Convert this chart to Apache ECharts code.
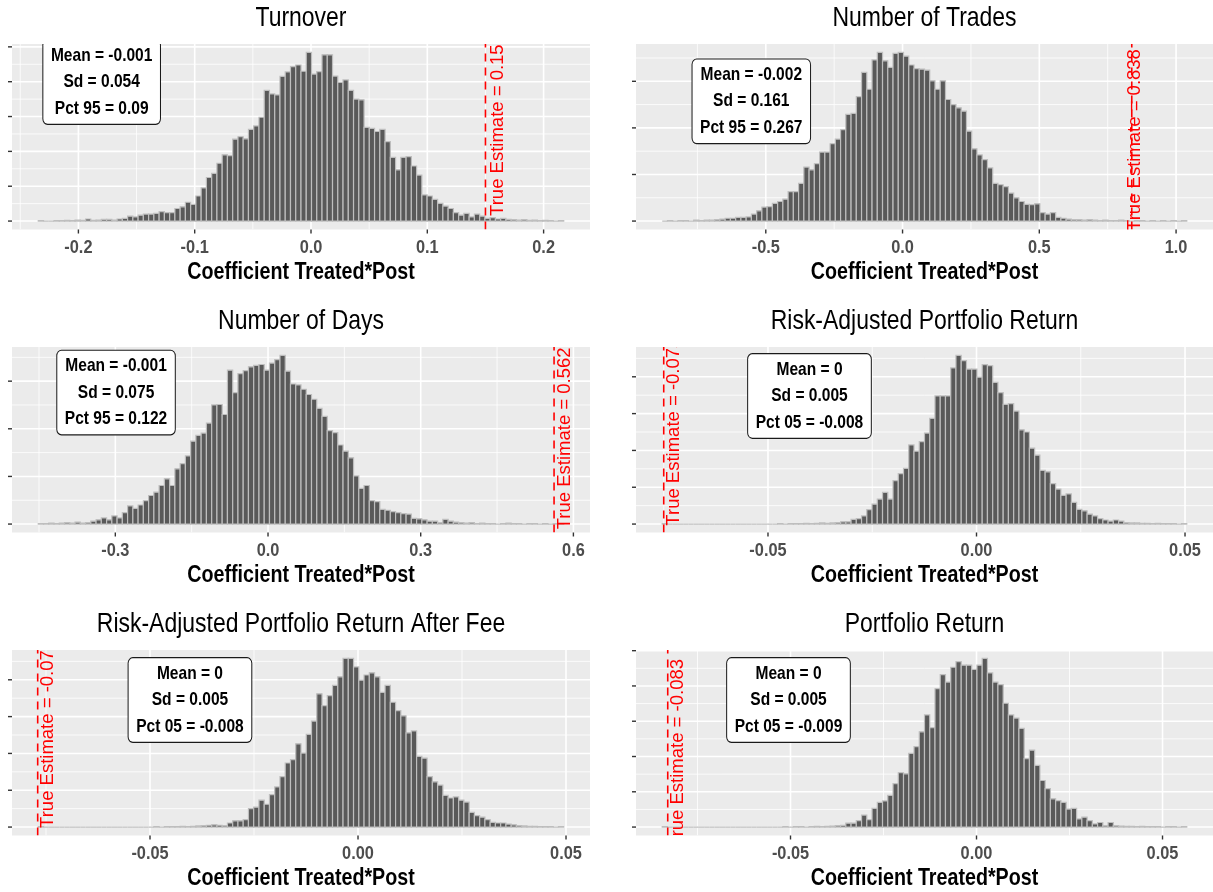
<!DOCTYPE html>
<html>
<head>
<meta charset="utf-8">
<script src="https://cdn.jsdelivr.net/npm/echarts@6/dist/echarts.min.js"></script>
<style>
  html, body { margin: 0; padding: 0; background: #ffffff; }
  #chart { width: 1213px; height: 892px; }
</style>
</head>
<body>
<div id="chart"></div>
<script>
// ---------------- data ----------------
const panelTitles = [
  'Turnover',
  'Number of Trades',
  'Number of Days',
  'Risk-Adjusted Portfolio Return',
  'Risk-Adjusted Portfolio Return After Fee',
  'Portfolio Return'
];
const axisTitle = 'Coefficient Treated*Post';

// histogram bins: left edge of the first bin and bin width (100 bins each)
const binStart = [-0.2345, -0.8786, -0.4514, -0.07536, -0.07686, -0.08448];
const binWidth = [0.004518, 0.019177, 0.010324, 0.0012578, 0.0012631, 0.00141];

const countsTurnover = [
  1, 0, 0, 1, 1, 2, 1, 3, 2, 6, 2, 3,
  5, 5, 3, 6, 8, 14, 12, 17, 20, 20, 22, 27,
  24, 24, 36, 41, 54, 48, 72, 95, 125, 137, 166, 190,
  188, 235, 242, 236, 263, 273, 298, 375, 365, 362, 415, 428,
  443, 448, 430, 484, 422, 429, 477, 477, 416, 398, 405, 375,
  350, 348, 269, 266, 257, 263, 228, 183, 147, 183, 185, 158,
  132, 75, 72, 62, 51, 43, 36, 24, 17, 22, 12, 20,
  14, 8, 10, 6, 8, 5, 4, 3, 4, 2, 3, 1,
  2, 1, 0, 1
];
const countsTrades = [
  0, 1, 0, 1, 1, 0, 2, 1, 2, 2, 3,
  4, 6, 6, 8, 8, 9,
  15, 22, 30, 31, 38, 42, 47,
  63, 63, 81, 116, 110, 123, 148, 148, 166, 176, 196, 229, 231, 267,
  319, 283, 346, 362, 344, 330, 360, 362, 354, 335,
  327, 326, 324, 301, 283, 301, 261, 250, 243, 236,
  193, 155, 142, 132, 114, 81, 78, 74, 60, 50, 42, 36,
  35, 37, 18, 15, 18, 8, 6, 4, 3, 3,
  2, 3, 2, 1, 2, 1, 1, 2, 1, 0, 1, 1, 0, 1, 0, 1, 0, 1, 0, 1
];
const countsDays = [
  1, 1, 2, 1, 2, 3, 2, 4, 2, 3, 6, 9, 13, 9, 17, 13,
  24, 38, 33, 40, 49, 60, 67, 81, 95, 81, 116, 127, 143, 174, 186, 191, 212, 250, 251, 230,
  323, 276, 316, 322, 330, 333, 335, 323, 338, 345, 354, 321, 294, 292,
  283, 272, 262, 243, 226, 196, 192, 166, 153, 139, 101, 75, 81, 49, 47, 31, 29, 26, 24, 22,
  21, 12, 11, 9, 6, 6, 3, 10, 6, 4, 3, 2, 3,
  1, 2, 1, 1, 0, 1, 2, 1, 1, 0, 1, 1, 0, 1, 0, 1, 1
];
const countsRiskAdj = [
  1, 0, 0, 0, 0, 0, 0, 0, 0, 0, 0, 0, 0, 0, 0, 0, 0, 0, 0, 0,
  0, 0, 1, 0, 1, 1, 1, 2, 1, 2, 3, 2, 3, 4,
  6, 6, 13, 15, 22, 39, 54, 68, 86, 68, 118, 137,
  151, 215, 198, 224, 247, 287, 348, 348, 348, 424, 458, 444,
  421, 421, 399, 433, 430, 385, 357, 325, 327, 307, 256, 250,
  206, 187, 146, 142, 110, 95, 78, 82, 59, 40, 36, 27,
  22, 15, 11, 8, 11, 8, 4, 3, 3, 2, 2, 1, 2, 1, 1, 1, 0, 1
];
const countsRiskAdjFee = [
  1, 0, 0, 0, 0, 0, 0, 0, 0, 0, 0, 0, 0, 0, 0, 0, 0, 0, 0, 0, 0, 0, 1, 0, 1,
  1, 1, 2, 1, 2,
  3, 4, 5, 6, 5, 4, 11, 17, 17, 20,
  50, 54, 73, 62, 88, 109, 137, 174, 183, 226, 201, 252, 288,
  362, 330, 357, 385, 408, 458, 458, 435, 399, 413, 419, 408,
  366, 385, 339, 316, 302, 256, 261, 192, 187, 137, 123, 114,
  86, 79, 82, 73, 68, 40, 31, 27, 20, 13, 11, 11, 8, 6, 4,
  3, 2, 2, 1, 1, 1, 0, 1
];
const countsReturn = [
  1, 0, 0, 0, 0, 0, 0, 0, 0, 0, 0, 0, 0, 0, 0, 0, 0, 0, 0, 0,
  0, 0, 0, 1, 0, 1, 1, 0, 1, 2, 1, 2,
  3, 4, 5,
  11, 11, 18, 34, 21, 53, 70, 74, 90, 123, 154, 151, 209,
  228, 270, 318, 282, 392, 432, 411, 453, 469, 459, 459, 447, 459, 478,
  437, 411, 404, 351, 318, 309, 280, 194, 218, 175, 132, 109, 80,
  75, 70, 51, 53, 23, 28, 18, 9, 13, 4, 13, 4,
  3, 2, 2, 1, 2, 1, 1, 1, 0, 1, 1, 0, 1
];
const panelCounts = [countsTurnover, countsTrades, countsDays, countsRiskAdj, countsRiskAdjFee, countsReturn];

const trueEstimate = [0.15, 0.838, 0.562, -0.075, -0.077, -0.083];
const trueEstimateText = [
  'True Estimate = 0.15',
  'True Estimate = 0.838',
  'True Estimate = 0.562',
  'True Estimate = -0.075',
  'True Estimate = -0.077',
  'True Estimate = -0.083'
];
// [x, y] of the rotated estimate label (data units)
const trueLabelPos = [[0.1604, 261], [0.850, 174], [0.5825, 180], [-0.07266, 251], [-0.07452, 253], [-0.08024, 210]];

const statText = [
  ['Mean = -0.001', 'Sd = 0.054', 'Pct 95 = 0.09'],
  ['Mean = -0.002', 'Sd = 0.161', 'Pct 95 = 0.267'],
  ['Mean = -0.001', 'Sd = 0.075', 'Pct 95 = 0.122'],
  ['Mean = 0', 'Sd = 0.005', 'Pct 05 = -0.008'],
  ['Mean = 0', 'Sd = 0.005', 'Pct 05 = -0.008'],
  ['Mean = 0', 'Sd = 0.005', 'Pct 05 = -0.009']
];
// centre of the summary box (data units)
const statPos = [[-0.180, 399], [-0.553, 257], [-0.2986, 276], [-0.04005, 348], [-0.0404, 345], [-0.05054, 360]];

const xTickValues = [
  [-0.2, -0.1, 0, 0.1, 0.2],
  [-0.5, 0, 0.5, 1.0],
  [-0.3, 0, 0.3, 0.6],
  [-0.05, 0, 0.05],
  [-0.05, 0, 0.05],
  [-0.05, 0, 0.05]
];
const xTickLabels = [
  ['-0.2', '-0.1', '0.0', '0.1', '0.2'],
  ['-0.5', '0.0', '0.5', '1.0'],
  ['-0.3', '0.0', '0.3', '0.6'],
  ['-0.05', '0.00', '0.05'],
  ['-0.05', '0.00', '0.05'],
  ['-0.05', '0.00', '0.05']
];
const xMinorValues = [
  [-0.25, -0.15, -0.05, 0.05, 0.15],
  [-0.75, -0.25, 0.25, 0.75],
  [-0.45, -0.15, 0.15, 0.45],
  [-0.075, -0.025, 0.025],
  [-0.075, -0.025, 0.025],
  [-0.075, -0.025, 0.025]
];
const yTickValues = [
  [0, 100, 200, 300, 400, 500],
  [0, 100, 200, 300],
  [0, 100, 200, 300],
  [0, 100, 200, 300, 400],
  [0, 100, 200, 300, 400],
  [0, 100, 200, 300, 400, 500]
];

// ---------------- layout ----------------
const panelBoxes = [
  { left: 12,  top: 44,  width: 578, height: 185.5 },
  { left: 636, top: 44,  width: 577, height: 185.5 },
  { left: 12,  top: 347, width: 578, height: 185.5 },
  { left: 636, top: 347, width: 577, height: 185.5 },
  { left: 12,  top: 650, width: 578, height: 185.5 },
  { left: 636, top: 650, width: 577, height: 185.5 }
];
// the plotting font is condensed: Liberation Sans squeezed horizontally
const FONT = "'Liberation Sans', Arial, sans-serif";
const SQUEEZE = 0.82;
const TICK_COLOR = '#333333';

function centeredText(text, x, y, size, weight, color, squeeze) {
  return {
    type: 'text', x: x, y: y, scaleX: squeeze, silent: true,
    style: {
      text: text, fill: color, fontSize: size, fontWeight: weight, fontFamily: FONT,
      align: 'center', verticalAlign: 'middle', textAlign: 'center', textVerticalAlign: 'middle'
    }
  };
}

const option = {
  animation: false,
  backgroundColor: '#ffffff',
  grid: [], xAxis: [], yAxis: [], series: [],
  graphic: { elements: [] }
};

panelTitles.forEach((t, k) => {
  const box = panelBoxes[k];
  const counts = panelCounts[k];
  const span = binWidth[k] * counts.length;
  const xMin = binStart[k] - 0.05 * span;
  const xMax = binStart[k] + 1.05 * span;
  const cMax = Math.max(...counts);
  const yMin = -0.05 * cMax;
  const yMax = 1.05 * cMax;
  const cx = box.left + box.width / 2;
  const bottom = box.top + box.height;

  // panel title and x-axis title
  option.graphic.elements.push(centeredText(t, cx, box.top - 26, 28, 'normal', '#000000', SQUEEZE));
  option.graphic.elements.push(centeredText(axisTitle, cx, bottom + 43, 24, 'bold', '#000000', SQUEEZE));

  option.grid.push({
    left: box.left, top: box.top, width: box.width, height: box.height,
    show: true, backgroundColor: '#EBEBEB', borderWidth: 0, containLabel: false
  });
  option.xAxis.push({
    gridIndex: k, type: 'value', min: xMin, max: xMax,
    axisLine: { show: false }, axisTick: { show: false }, axisLabel: { show: false }, splitLine: { show: false }
  });
  option.yAxis.push({
    gridIndex: k, type: 'value', min: yMin, max: yMax,
    axisLine: { show: false }, axisTick: { show: false }, axisLabel: { show: false }, splitLine: { show: false }
  });

  // white panel grid: vertical lines (major + minor)
  const vLines = xTickValues[k].map(v => [v, 1.6]).concat(xMinorValues[k].map(v => [v, 0.8]));
  option.series.push({
    type: 'custom', xAxisIndex: k, yAxisIndex: k, z: 1, silent: true, clip: true,
    data: vLines,
    renderItem: (params, api) => {
      const cs = params.coordSys;
      const x = api.coord([api.value(0), 0])[0];
      return { type: 'line', shape: { x1: x, y1: cs.y, x2: x, y2: cs.y + cs.height },
               style: { stroke: '#FFFFFF', lineWidth: api.value(1) } };
    }
  });
  // white panel grid: horizontal lines (major + minor)
  const yMinor = yTickValues[k].map(v => v + 50).filter(v => v < yMax);
  const hLines = yTickValues[k].map(v => [v, 1.6]).concat(yMinor.map(v => [v, 0.8]));
  option.series.push({
    type: 'custom', xAxisIndex: k, yAxisIndex: k, z: 1, silent: true, clip: true,
    data: hLines,
    encode: { x: 1, y: 0 },
    renderItem: (params, api) => {
      const cs = params.coordSys;
      const y = api.coord([xMin, api.value(0)])[1];
      return { type: 'line', shape: { x1: cs.x, y1: y, x2: cs.x + cs.width, y2: y },
               style: { stroke: '#FFFFFF', lineWidth: api.value(1) } };
    }
  });

  // x axis: tick marks below the panel and their labels
  option.series.push({
    type: 'custom', xAxisIndex: k, yAxisIndex: k, z: 3, silent: true, clip: false,
    data: xTickValues[k].map((v, i) => [v, i]),
    encode: { x: 0, y: 1 },
    renderItem: (params, api) => {
      const cs = params.coordSys;
      const x = api.coord([api.value(0), 0])[0];
      const yb = cs.y + cs.height;
      return { type: 'group', children: [
        { type: 'line', shape: { x1: x, y1: yb, x2: x, y2: yb + 4 },
          style: { stroke: TICK_COLOR, lineWidth: 1.4 } },
        centeredText(xTickLabels[k][api.value(1)], x, yb + 18.5, 19, 'bold', '#4D4D4D', 0.86)
      ] };
    }
  });
  // y axis: tick marks left of the panel (no labels)
  option.series.push({
    type: 'custom', xAxisIndex: k, yAxisIndex: k, z: 3, silent: true, clip: false,
    data: yTickValues[k].map(v => [v]),
    encode: { y: 0 },
    renderItem: (params, api) => {
      const cs = params.coordSys;
      const y = api.coord([xMin, api.value(0)])[1];
      return { type: 'line', shape: { x1: cs.x - 4, y1: y, x2: cs.x, y2: y },
               style: { stroke: TICK_COLOR, lineWidth: 1.4 } };
    }
  });

  // histogram bars
  const bins = counts.map((c, i) => [binStart[k] + i * binWidth[k], binStart[k] + (i + 1) * binWidth[k], c]);
  option.series.push({
    type: 'custom', xAxisIndex: k, yAxisIndex: k, z: 2, silent: true, clip: true,
    data: bins,
    encode: { x: [0, 1], y: 2 },
    renderItem: (params, api) => {
      const p0 = api.coord([api.value(0), 0]);
      const p1 = api.coord([api.value(1), api.value(2)]);
      return { type: 'rect',
               shape: { x: p0[0], y: p1[1], width: p1[0] - p0[0], height: p0[1] - p1[1] },
               style: { fill: '#595959', stroke: '#BEBEBE', lineWidth: 1.2 } };
    }
  });

  // dashed line at the true estimate
  option.series.push({
    type: 'custom', xAxisIndex: k, yAxisIndex: k, z: 3, silent: true, clip: true,
    data: [[trueEstimate[k], 0]],
    renderItem: (params, api) => {
      const cs = params.coordSys;
      const x = api.coord([api.value(0), 0])[0];
      return { type: 'line', shape: { x1: x, y1: cs.y + cs.height, x2: x, y2: cs.y },
               style: { stroke: '#FF0000', lineWidth: 1.6, lineDash: [8, 6] } };
    }
  });

  // rotated estimate label
  option.series.push({
    type: 'custom', xAxisIndex: k, yAxisIndex: k, z: 4, silent: true, clip: true,
    data: [trueLabelPos[k]],
    renderItem: (params, api) => {
      const p = api.coord([api.value(0), api.value(1)]);
      return { type: 'text', x: p[0], y: p[1], rotation: Math.PI / 2,
               style: { text: trueEstimateText[k], fill: '#FF0000', fontSize: 18.5, fontFamily: FONT,
                        align: 'center', verticalAlign: 'middle', textAlign: 'center', textVerticalAlign: 'middle' } };
    }
  });

  // summary statistics box
  option.series.push({
    type: 'custom', xAxisIndex: k, yAxisIndex: k, z: 5, silent: true, clip: true,
    data: [statPos[k]],
    renderItem: (params, api) => {
      const p = api.coord([api.value(0), api.value(1)]);
      return { type: 'text', x: p[0], y: p[1], scaleX: 0.84,
               style: { text: statText[k].join('\n'), fill: '#000000', fontSize: 18.5, fontWeight: 'bold',
                        fontFamily: FONT, align: 'center', verticalAlign: 'middle',
                        textAlign: 'center', textVerticalAlign: 'middle', lineHeight: 26.5,
                        backgroundColor: '#FFFFFF', borderColor: '#1A1A1A', borderWidth: 1.2,
                        borderRadius: 5, padding: [2, 9] } };
    }
  });
});

const chart = echarts.init(document.getElementById('chart'), null, { renderer: 'canvas' });
chart.setOption(option);
</script>
</body>
</html>
